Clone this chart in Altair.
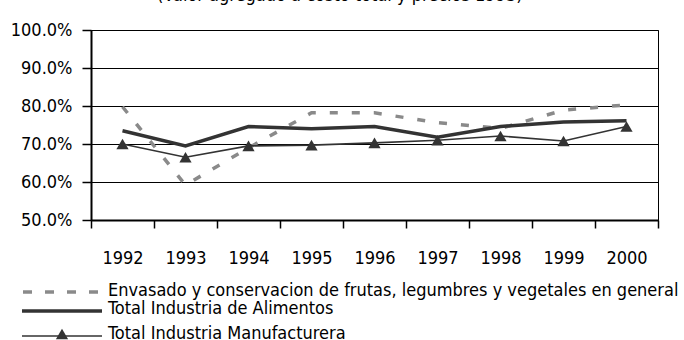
import altair as alt
import pandas as pd

# Años y series (fracción del total)
years = [1992, 1993, 1994, 1995, 1996, 1997, 1998, 1999, 2000]
envasado = [0.798, 0.592, 0.690, 0.782, 0.782, 0.756, 0.741, 0.789, 0.803]
alimentos = [0.735, 0.695, 0.746, 0.740, 0.746, 0.718, 0.746, 0.758, 0.761]
manufacturera = [0.700, 0.665, 0.695, 0.697, 0.703, 0.710, 0.721, 0.708, 0.746]

series_names = [
    "Envasado y conservacion de frutas, legumbres y vegetales en general",
    "Total Industria de Alimentos",
    "Total Industria Manufacturera",
]
title_text = "(Valor agregado a costo total y precios 1993)"

y_ticks = [0.5, 0.6, 0.7, 0.8, 0.9, 1.0]
x_bounds = [y - 0.5 for y in years] + [years[-1] + 0.5]

rows = []
for name, vals in zip(series_names, [envasado, alimentos, manufacturera]):
    for yr, v in zip(years, vals):
        rows.append({"anio": yr, "valor": v, "serie": name})
df = pd.DataFrame(rows)

FONT = "DejaVu Sans Condensed"
FS = 18
W, H = 567, 190
GRAY = "#8a8a8a"
DARK = "#333333"

# Ticks en los límites de cada año, etiquetas desplazadas al centro
x_axis = alt.Axis(
    values=x_bounds,
    labelExpr="datum.value < 2000 ? format(datum.value + 0.5, 'd') : ''",
    labelOffset=W / 18,
    labelFlush=False,
    labelOverlap=False,
    tickSize=8,
    labelPadding=21,
    grid=False,
    title=None,
)
x_enc = alt.X("anio:Q", scale=alt.Scale(domain=[x_bounds[0], x_bounds[-1]], nice=False, zero=False), axis=x_axis)
y_enc = alt.Y(
    "valor:Q",
    scale=alt.Scale(domain=[0.5, 1.0], nice=False, zero=False),
    axis=alt.Axis(values=y_ticks, format=".1%", tickSize=9, labelPadding=10, title=None, grid=True),
)

base = alt.Chart(df)

line_env = base.transform_filter(alt.datum.serie == series_names[0]).mark_line(
    color=GRAY, strokeWidth=3.5, strokeDash=[8, 14], strokeCap="butt"
).encode(x=x_enc, y=y_enc)

line_ali = base.transform_filter(alt.datum.serie == series_names[1]).mark_line(
    color=DARK, strokeWidth=3.5
).encode(x=x_enc, y=y_enc)

line_man = base.transform_filter(alt.datum.serie == series_names[2]).mark_line(
    color=DARK, strokeWidth=1.6
).encode(x=x_enc, y=y_enc)

pts_man = base.transform_filter(alt.datum.serie == series_names[2]).mark_point(
    shape="triangle-up", filled=True, color=DARK, size=150, opacity=1
).encode(x=x_enc, y=y_enc)

# Leyenda dibujada debajo del eje
leg_env = alt.Chart().mark_rule(color=GRAY, strokeWidth=3.5, strokeDash=[9, 13], strokeCap="butt").encode(
    x=alt.value(-68), x2=alt.value(11), y=alt.value(262)
)
leg_ali = alt.Chart().mark_rule(color=DARK, strokeWidth=3.5).encode(
    x=alt.value(-69), x2=alt.value(11), y=alt.value(281)
)
leg_man = alt.Chart().mark_rule(color=DARK, strokeWidth=1.6).encode(
    x=alt.value(-69), x2=alt.value(11), y=alt.value(306)
)
leg_tri = alt.Chart().mark_point(shape="triangle-up", filled=True, color=DARK, size=150, opacity=1).encode(
    x=alt.value(-29), y=alt.value(304)
)
label_style = dict(align="left", baseline="middle", font=FONT, fontSize=FS, color="#000000")
leg_t1 = alt.Chart().mark_text(text=series_names[0], **label_style).encode(x=alt.value(17), y=alt.value(261))
leg_t2 = alt.Chart().mark_text(text=series_names[1], **label_style).encode(x=alt.value(17), y=alt.value(279))
leg_t3 = alt.Chart().mark_text(text=series_names[2], **label_style).encode(x=alt.value(17), y=alt.value(304))

title = alt.Chart().mark_text(
    text=title_text, align="left", baseline="alphabetic", font=FONT, fontSize=FS, color="#000000"
).encode(x=alt.value(66), y=alt.value(-29))

chart = alt.layer(
    line_env, line_ali, line_man, pts_man,
    leg_env, leg_ali, leg_man, leg_tri, leg_t1, leg_t2, leg_t3, title,
).properties(
    width=W,
    height=H,
    autosize=alt.AutoSizeParams(type="none"),
    padding={"left": 91, "top": 30, "right": 26, "bottom": 120},
    background="white",
).configure_view(
    stroke="#000000", strokeWidth=1
).configure_axis(
    labelFont=FONT, labelFontSize=FS, labelColor="#000000",
    domainColor="#000000", domainWidth=2,
    tickColor="#000000", tickWidth=1.5,
    gridColor="#000000", gridWidth=1, gridOpacity=1,
)

chart.save("out.html", embed_options={"renderer": "svg", "actions": False})
